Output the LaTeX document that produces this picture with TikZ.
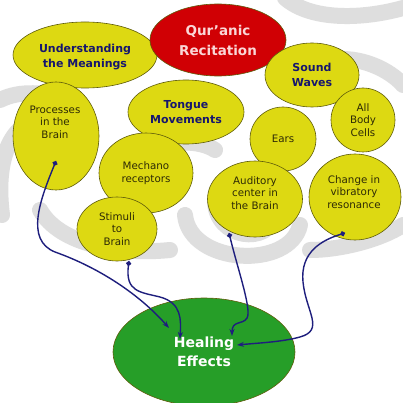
\documentclass[tikz,border=0pt]{standalone}
\usepackage{fontspec}
\setmainfont{DejaVu Sans}
\usetikzlibrary{shapes.geometric,arrows.meta}
\definecolor{yel}{RGB}{221,217,18}
\definecolor{yedge}{RGB}{95,92,10}
\definecolor{rd}{RGB}{208,0,4}
\definecolor{gr}{RGB}{38,158,40}
\definecolor{navy}{RGB}{22,22,110}
\definecolor{arrc}{RGB}{30,30,125}
\definecolor{txt}{RGB}{45,42,5}
\definecolor{wm}{RGB}{222,222,222}
\definecolor{pinkw}{RGB}{250,215,215}
\tikzset{
  bub/.style={ellipse, draw=yedge, line width=0.6pt, fill=yel, inner sep=0pt, align=center},
  head/.style={font=\fontsize{11}{15}\selectfont\bfseries, text=navy},
  small/.style={font=\fontsize{10.3}{12.5}\selectfont, text=txt},
  conn/.style={draw=arrc, line width=1.4pt, {Circle[length=5pt]}-{Stealth[length=7pt,width=5pt]}},
  wmark/.style={draw=wm, line width=16pt, line cap=round}
}
\begin{document}
\begin{tikzpicture}[x=1pt,y=-1pt]
\useasboundingbox (0,0) rectangle (403,403);
\fill[white] (0,0) rectangle (403,403);
% watermark swirls
\begin{scope}
\clip (0,0) rectangle (403,403);
\draw[wmark] (285,-2) .. controls (310,20) and (360,20) .. (403,8);
\draw[wmark] (330,60) .. controls (360,55) and (390,70) .. (403,85);
\draw[wmark] (0,100) .. controls (20,90) and (45,92) .. (70,100);
\draw[wmark] (2,215) .. controls (-5,160) and (10,125) .. (40,118);
\draw[wmark] (40,210) .. controls (60,245) and (120,255) .. (170,250);
\draw[wmark] (185,215) .. controls (190,265) and (290,270) .. (300,225);
\draw[wmark] (215,200) .. controls (215,240) and (270,245) .. (275,215);
\draw[wmark] (310,250) .. controls (340,250) and (380,240) .. (403,225);
\draw[wmark] (150,150) .. controls (170,140) and (200,140) .. (215,150);
\end{scope}
% bubbles
\node[bub, minimum width=144pt, minimum height=66pt] (und) at (85,55) {};
\node[ellipse, draw=yedge, line width=0.6pt, fill=rd, minimum width=136pt, minimum height=72pt, inner sep=0pt, align=center,
      font=\fontsize{13.5}{20}\selectfont\bfseries, text=pinkw] (qur) at (218,40) {Qur'anic\\Recitation};
\node[head, align=center] at (85,57) {Understanding\\the Meanings};
\node[bub, minimum width=94pt, minimum height=64pt, head] (snd) at (312,75) {Sound\\Waves};
\node[bub, minimum width=86pt, minimum height=108pt] (proc) at (56,136) {};
\node[small, align=center] at (55,122) {Processes\\in the\\Brain};
\node[bub, minimum width=116pt, minimum height=64pt, head] (ton) at (186,112) {Tongue\\Movements};
\node[bub, minimum width=64pt, minimum height=64pt, small] (body) at (363,120) {All\\Body\\Cells};
\node[bub, minimum width=66pt, minimum height=64pt, small] (ears) at (283,139) {Ears};
\node[bub, minimum width=94pt, minimum height=80pt, small] (mech) at (146,173) {Mechano\\receptors};
\node[bub, minimum width=80pt, minimum height=64pt, small] (stim) at (117,229) {Stimuli\\to\\Brain};
\node[bub, minimum width=95pt, minimum height=76pt] (aud) at (255,199) {};
\node[small, align=center] at (255,193) {Auditory\\center in\\the Brain};
\node[bub, minimum width=92pt, minimum height=86pt] (chg) at (355,197) {};
\node[small, align=center] at (354,192) {Change in\\vibratory\\resonance};
\node[ellipse, draw=yedge, line width=0.6pt, fill=gr, inner sep=0pt, minimum width=182pt, minimum height=108pt, align=center,
      font=\fontsize{14}{19}\selectfont\bfseries, text=white] (heal) at (204,352) {Healing\\Effects};
% connector endpoints
\coordinate (d1) at (56,161);
\coordinate (d2) at (129,261);
\coordinate (d3) at (229,233);
\coordinate (d4) at (345,233);
\coordinate (t1) at (169,328);
\coordinate (t2) at (180,339);
\coordinate (t3) at (232,336);
\coordinate (t4) at (237,345);
\draw[conn] (d1) .. controls (40,200) and (25,240) .. (55,252) .. controls (100,268) and (140,295) .. (t1);
\draw[conn] (d2) .. controls (125,292) and (140,292) .. (160,297) .. controls (182,303) and (181,320) .. (t2);
\draw[conn] (d3) .. controls (238,270) and (252,310) .. (247,318) .. controls (243,325) and (232,320) .. (t3);
\draw[conn] (d4) .. controls (322,240) and (300,252) .. (303,282) .. controls (306,312) and (325,330) .. (300,337) .. controls (282,342) and (258,343) .. (t4);
\end{tikzpicture}
\end{document}
